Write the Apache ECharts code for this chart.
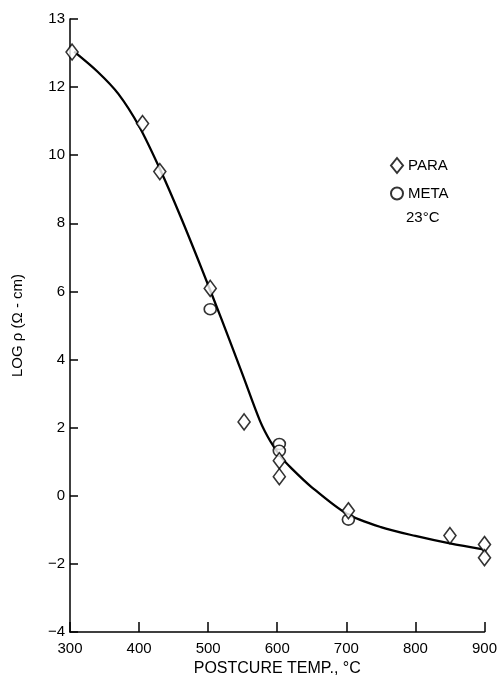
<!DOCTYPE html>
<html>
<head>
<meta charset="utf-8">
<script src="https://cdn.jsdelivr.net/npm/echarts@6/dist/echarts.min.js"></script>
<style>
html,body{margin:0;padding:0;background:#fff;}
#chart{width:500px;height:683px;}
</style>
</head>
<body>
<div id="chart"></div>
<script>
// x = postcure temperature (°C), y = log rho (plotted position on the axis; top tick is labelled "13")
const paraPoints = [[303,13.03],[405,10.93],[430,9.52],[503,6.09],[552,2.17],[603,1.03],[603,0.56],[703,-0.44],[850,-1.17],[900,-1.43],[900,-1.82]];
const metaPoints = [[503,5.48],[603,1.52],[603,1.32],[703,-0.70]];
const curvePoints = [[306,13.04],[340,12.45],[370,11.8],[400,10.85],[430,9.6],[460,8.2],[490,6.7],[520,5.15],[550,3.55],[575,2.2],[590,1.6],[605,1.15],[620,0.82],[650,0.25],[700,-0.52],[750,-0.92],[800,-1.18],[850,-1.4],[900,-1.58]];
const yTickLabels = {'14':'13','12':'12','10':'10','8':'8','6':'6','4':'4','2':'2','0':'0','-2':'−2','-4':'−4'};
const xTickValues = [300,400,500,600,700,800,900];

const FONT = 'Liberation Sans, Arial, Helvetica, sans-serif';
const INK = '#000';
const chart = echarts.init(document.getElementById('chart'));
chart.setOption({
  animation: false,
  backgroundColor: '#fff',
  grid: {left: 70, right: 13, top: 19, bottom: 51},
  xAxis: {
    type: 'value', min: 300, max: 900, interval: 100,
    name: 'POSTCURE TEMP., °C', nameLocation: 'middle', nameGap: 26,
    nameTextStyle: {fontFamily: FONT, fontSize: 16, color: INK},
    axisLine: {onZero: false, lineStyle: {color: INK, width: 1.5}},
    axisTick: {inside: true, length: 10, lineStyle: {color: INK, width: 1.5}},
    axisLabel: {margin: 9, fontFamily: FONT, fontSize: 15, color: INK,
      formatter: v => xTickValues.includes(v) ? String(v) : ''},
    splitLine: {show: false}
  },
  yAxis: {
    type: 'value', min: -4, max: 14, interval: 2,
    name: 'LOG ρ (Ω - cm)', nameLocation: 'middle', nameGap: 45, nameRotate: 90,
    nameTextStyle: {fontFamily: FONT, fontSize: 15, color: INK},
    axisLine: {show: true, onZero: false, lineStyle: {color: INK, width: 1.5}},
    axisTick: {show: true, inside: true, length: 8, lineStyle: {color: INK, width: 1.5}},
    axisLabel: {margin: 5, fontFamily: FONT, fontSize: 15, color: INK,
      formatter: v => yTickLabels[String(v)] || ''},
    splitLine: {show: false}
  },
  legend: {
    orient: 'vertical', left: 385, top: 152, itemWidth: 12, itemHeight: 15, itemGap: 12,
    textStyle: {fontFamily: FONT, fontSize: 15, color: INK},
    data: [{name: 'PARA', icon: 'diamond'}, {name: 'META', icon: 'circle'}],
    selectedMode: false
  },
  graphic: [{
    type: 'text', left: 406, top: 210,
    style: {text: '23°C', fontFamily: FONT, fontSize: 15, fill: INK}
  }],
  series: [
    {
      name: 'curve', type: 'line', data: curvePoints, smooth: 0.3, showSymbol: false,
      lineStyle: {color: INK, width: 2.3}, z: 1, silent: true
    },
    {
      name: 'PARA', type: 'scatter', data: paraPoints, symbol: 'diamond', symbolSize: [12, 16],
      itemStyle: {color: '#fff', borderColor: INK, borderWidth: 1.6}, z: 3
    },
    {
      name: 'META', type: 'scatter', data: metaPoints, symbol: 'circle', symbolSize: [12, 11],
      itemStyle: {color: '#fff', borderColor: INK, borderWidth: 1.6}, z: 2
    }
  ]
});
</script>
</body>
</html>
